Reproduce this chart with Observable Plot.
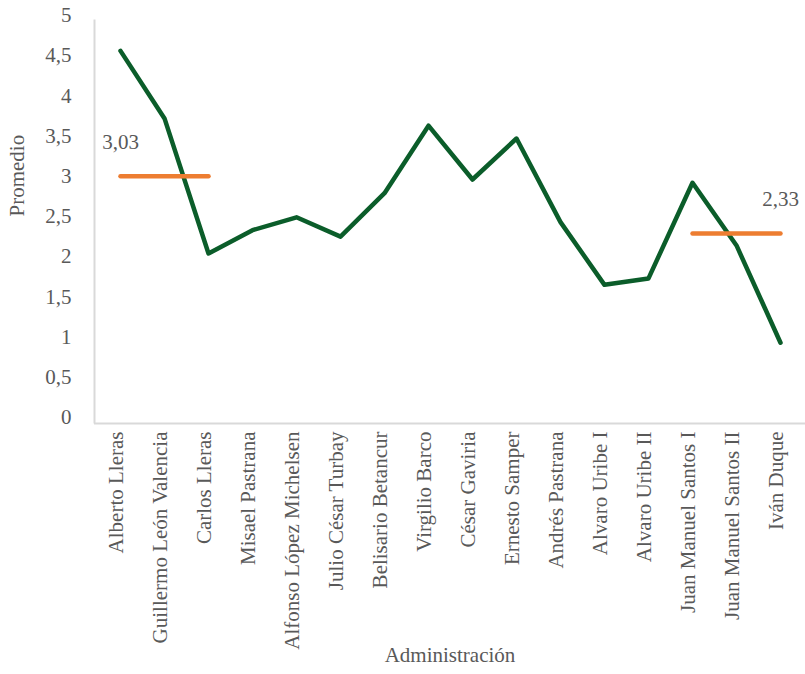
<!DOCTYPE html>
<html>
<head>
<meta charset="utf-8">
<script src="https://cdn.jsdelivr.net/npm/d3@7"></script>
<script src="https://cdn.jsdelivr.net/npm/@observablehq/plot@0.6"></script>
<style>
  html, body { margin: 0; padding: 0; background: #fff; }
  #chart svg { display: block; }
</style>
</head>
<body>
<div id="chart"></div>
<script>
const administraciones = [
  "Alberto Lleras", "Guillermo León Valencia", "Carlos Lleras", "Misael Pastrana",
  "Alfonso López Michelsen", "Julio César Turbay", "Belisario Betancur", "Virgilio Barco",
  "César Gaviria", "Ernesto Samper", "Andrés Pastrana", "Alvaro Uribe I",
  "Alvaro Uribe II", "Juan Manuel Santos I", "Juan Manuel Santos II", "Iván Duque"
];
const promedio = [4.56, 3.72, 2.04, 2.33, 2.49, 2.25, 2.79, 3.63, 2.96, 3.47, 2.43, 1.65, 1.73, 2.92, 2.14, 0.93];

// average segments: start/end administrations, level, label text, label anchor administration
const avgStart = ["Alberto Lleras", "Juan Manuel Santos I"];
const avgEnd = ["Carlos Lleras", "Iván Duque"];
const avgLevel = [3.0, 2.29];
const avgLabel = ["3,03", "2,33"];
const avgLabelAt = ["Alberto Lleras", "Iván Duque"];

const yTicks = [0, 0.5, 1, 1.5, 2, 2.5, 3, 3.5, 4, 4.5, 5];
const xTitle = "Administración";
const yTitle = "Promedio";

const serie = administraciones.map((a, i) => ({admin: a, valor: promedio[i]}));
const segs = [];
avgStart.forEach((s, i) => {
  segs.push({admin: s, valor: avgLevel[i], g: i});
  segs.push({admin: avgEnd[i], valor: avgLevel[i], g: i});
});
const labs = avgLabel.map((t, i) => ({admin: avgLabelAt[i], valor: avgLevel[i], t}));

const textColor = "#595959";
const font = "'Liberation Serif', 'DejaVu Serif', serif";
const fs = 21;

const chart = Plot.plot({
  width: 805,
  height: 674,
  marginLeft: 94,
  marginRight: 0,
  marginTop: 15,
  marginBottom: 257,
  style: {fontFamily: font, fontSize: fs + "px", color: textColor, background: "#fff", overflow: "visible"},
  x: {type: "point", domain: administraciones, padding: 0.5},
  y: {domain: [0, 5]},
  marks: [
    Plot.axisY({ticks: yTicks, tickSize: 0, tickPadding: 23, tickFormat: d => String(d).replace(".", ","),
      label: null, fontSize: fs, fill: textColor}),
    Plot.axisX({tickSize: 0, tickRotate: -90, tickPadding: 14, dx: -4, label: null, fontSize: fs, fill: textColor}),
    Plot.text([xTitle], {frameAnchor: "bottom", dy: 244, fontSize: fs, fill: textColor}),
    Plot.text([yTitle], {frameAnchor: "left", dx: -77, rotate: -90, fontSize: fs, fill: textColor}),
    Plot.frame({anchor: "left", stroke: "#d9d9d9", strokeWidth: 2, dy: 5}),
    Plot.ruleY([0], {stroke: "#d9d9d9", strokeWidth: 2, dy: 6}),
    Plot.line(serie, {x: "admin", y: "valor", stroke: "#0b5d2a", strokeWidth: 4.5, strokeLinejoin: "round"}),
    Plot.line(segs, {x: "admin", y: "valor", z: "g", stroke: "#ed7d31", strokeWidth: 4.5, strokeLinecap: "round"}),
    Plot.text(labs, {x: "admin", y: "valor", text: "t", dy: -34, fontSize: fs, fill: textColor})
  ]
});
document.getElementById("chart").appendChild(chart);
</script>
</body>
</html>
